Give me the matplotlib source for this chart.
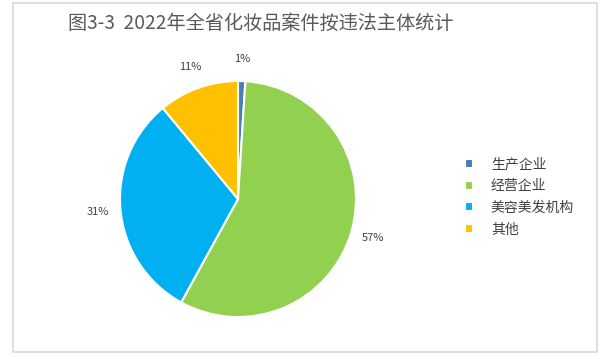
import matplotlib.pyplot as plt
from matplotlib.patches import Rectangle

plt.rcParams['font.family'] = ['Noto Sans CJK SC', 'DejaVu Sans']

# Data
categories = ['生产企业', '经营企业', '美容美发机构', '其他']
shares = [1, 57, 31, 11]
colors = ['#4A7EBB', '#92D050', '#00B0F0', '#FFC000']

fig = plt.figure(figsize=(6.09, 3.59), dpi=100)

# Light grey frame around the chart area
fig.patches.append(Rectangle((13 / 609, 1 - 352 / 359), 584 / 609, 349 / 359,
                             transform=fig.transFigure, fill=False,
                             edgecolor='#D9D9D9', linewidth=1.2))

# Pie axes (center ~ (238,199) px, radius ~118 px)
r = 118
ax = fig.add_axes([(238 - r) / 609, (359 - 199 - r) / 359, 2 * r / 609, 2 * r / 359])
wedges, texts, autotexts = ax.pie(
    shares, colors=colors, startangle=90, counterclock=False,
    autopct='%d%%', pctdistance=1.19,
    wedgeprops=dict(edgecolor='white', linewidth=1.5),
    textprops=dict(color='#404040', fontsize=8))
ax.set_aspect('equal')
ax.set_xlim(-1, 1)
ax.set_ylim(-1, 1)

# Title
fig.text(261 / 609, 1 - 23 / 359, '图3-3  2022年全省化妆品案件按违法主体统计',
         ha='center', va='center', fontsize=13.8, color='#595959')

# Legend
fig.legend(wedges, categories, loc='upper left',
           bbox_to_anchor=(452 / 609, 1 - 145 / 359),
           frameon=False, fontsize=10, labelcolor='#404040',
           handlelength=0.6, handleheight=0.6, handletextpad=1.3,
           labelspacing=0.55)

fig.savefig('out.png', dpi=100)
